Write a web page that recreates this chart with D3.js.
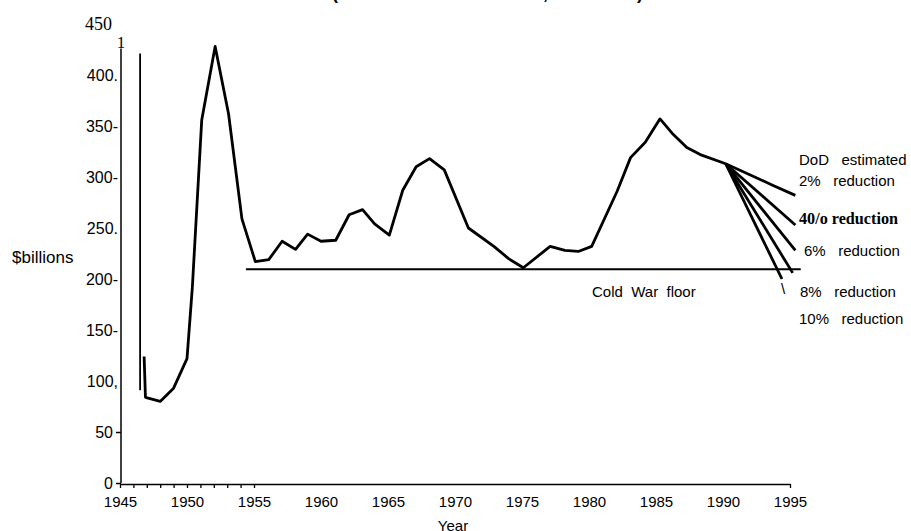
<!DOCTYPE html>
<html>
<head>
<meta charset="utf-8">
<script src="https://cdn.jsdelivr.net/npm/d3@7"></script>
<style>
body { margin: 0; background: #fff; }
text { fill: #000; white-space: pre; }
</style>
</head>
<body>
<div id="chart"></div>
<script>
// defense spending ($ billions)
var years = [1946.8, 1946.9, 1948.0, 1949.0, 1950.0, 1950.4, 1951.1, 1952.1, 1953.1, 1954.1,
    1955.1, 1956.1, 1957.1, 1958.1, 1959.0, 1960.0, 1961.1, 1962.1, 1963.1, 1964.0,
    1965.1, 1966.1, 1967.1, 1968.1, 1969.2, 1971.0, 1972.9, 1974.0, 1975.1, 1977.1,
    1978.2, 1979.2, 1980.2, 1982.1, 1983.1, 1984.2, 1985.3, 1986.2, 1987.3, 1988.3, 1990.2];
var spending = [124, 84, 80, 93, 122, 192, 356, 428, 362, 259,
    217, 219, 237, 229, 244, 237, 238, 263, 268, 254,
    243, 287, 310, 318, 307, 250, 232, 220, 211, 232,
    228, 227, 232, 286, 319, 334, 357, 343, 329, 322, 313];

// projected reductions after 1990
var scenarioNames = ["2%", "4%", "6%", "8%", "10%"];
var scenarioYears = [[1990.2, 1993.7, 1995.4], [1990.2, 1995.4], [1990.2, 1995.4], [1990.2, 1995.2], [1990.2, 1994.4]];
var scenarioValues = [[313, 292, 282], [313, 253], [313, 228], [313, 206], [313, 200]];

// scan leftovers: the 1946 drop line and the cold war floor
var spikeYear = 1946.5;
var spikeValues = [421, 91];
var floorValue = 209.5;
var floorYears = [1954.4, 1995.8];

var xTicks = [1945, 1950, 1955, 1960, 1965, 1970, 1975, 1980, 1985, 1990, 1995];
var minorTicks = [1945, 1946, 1947, 1948, 1949, 1950, 1951, 1952, 1953, 1954, 1955, 1995];
var yTicks = [0, 50, 100, 150, 200, 250, 300, 350, 400, 450];
var yTickLabels = ["0", "50", "100,", "150-", "200-", "250.", "300-", "350-", "400.", "450"];
var yAxisTop = 426;

var sans = "'Liberation Sans', Arial, sans-serif",
    serif = "'Liberation Serif', 'Times New Roman', serif";

var width = 911,
    height = 531;

var svg = d3.select("#chart")
    .append("svg")
    .attr("width", width)
    .attr("height", height)
    .style("display", "block")

var x = d3.scaleLinear().domain([1945, 1995]).range([120, 790])
var y = d3.scaleLinear().domain([0, 450]).range([483, 24])

// cut-off title, only the descenders show
svg.append("text")
    .attr("x", 332)
    .attr("y", -1.2)
    .attr("font-family", sans)
    .attr("font-weight", "bold")
    .attr("font-size", 18)
    .text("(in constant 1995 dollars, in billions)")

// x axis
var xAxis = svg.append("g")
    .attr("transform", "translate(0,484)")
    .call(d3.axisBottom(x).tickValues(xTicks).tickFormat(d3.format("d")).tickSize(0).tickPadding(12))
xAxis.select(".domain").attr("stroke-width", 1.6)
xAxis.selectAll("text").attr("font-family", sans).attr("font-size", 15)

svg.append("g")
    .attr("transform", "translate(0,484)")
    .call(d3.axisBottom(x).tickValues(minorTicks).tickFormat("").tickSize(4))
    .call(function(g) { g.select(".domain").remove() })
    .selectAll("line").attr("stroke-width", 1.3)

// y axis
var yAxis = svg.append("g")
    .attr("transform", "translate(121,0)")
    .call(d3.axisLeft(y).tickValues(yTicks).tickFormat(function(d, i) { return yTickLabels[i] }).tickSize(0).tickPadding(3))
yAxis.select(".domain").remove()
yAxis.selectAll("text").attr("font-family", sans).attr("font-size", 16)
yAxis.selectAll(".tick").filter(function(d) { return d <= 50 })
    .call(function(t) {
        t.select("text").attr("x", -8)
        t.append("line").attr("x1", -5).attr("x2", 0).attr("stroke", "#000").attr("stroke-width", 1.5)
    })
yAxis.selectAll(".tick").filter(function(d) { return d === 450 })
    .select("text")
    .attr("x", -9)
    .attr("font-family", serif)
    .attr("font-size", 18)

svg.append("line")
    .attr("x1", 121).attr("x2", 121)
    .attr("y1", y(0)).attr("y2", y(yAxisTop))
    .attr("stroke", "#000")
    .attr("stroke-width", 1.5)

svg.append("text")
    .attr("x", 121)
    .attr("y", 48)
    .attr("text-anchor", "middle")
    .attr("font-family", serif)
    .attr("font-size", 17)
    .text("1")

svg.append("text")
    .attr("x", 12)
    .attr("y", 263)
    .attr("font-family", sans)
    .attr("font-size", 17)
    .text("$billions")

svg.append("text")
    .attr("x", 453)
    .attr("y", 531)
    .attr("text-anchor", "middle")
    .attr("font-family", sans)
    .attr("font-size", 15)
    .text("Year")

// 1946 drop
svg.append("line")
    .attr("x1", x(spikeYear)).attr("x2", x(spikeYear))
    .attr("y1", y(spikeValues[0])).attr("y2", y(spikeValues[1]))
    .attr("stroke", "#000")
    .attr("stroke-width", 1.8)

// cold war floor
svg.append("line")
    .attr("x1", x(floorYears[0])).attr("x2", x(floorYears[1]))
    .attr("y1", y(floorValue)).attr("y2", y(floorValue))
    .attr("stroke", "#000")
    .attr("stroke-width", 2)

var line = d3.line()
    .x(function(d) { return x(d[0]) })
    .y(function(d) { return y(d[1]) })

svg.append("path")
    .datum(d3.zip(years, spending))
    .attr("d", line)
    .attr("fill", "none")
    .attr("stroke", "#000")
    .attr("stroke-width", 2.8)
    .attr("stroke-linejoin", "round")

svg.selectAll(".scenario")
    .data(scenarioNames)
    .enter().append("path")
    .attr("class", "scenario")
    .attr("d", function(d, i) { return line(d3.zip(scenarioYears[i], scenarioValues[i])) })
    .attr("fill", "none")
    .attr("stroke", "#000")
    .attr("stroke-width", 2.8)
    .attr("stroke-linejoin", "round")

// labels on the right
var notes = [
    { t: "DoD   estimated", x: 799, y: 165 },
    { t: "2%   reduction", x: 799, y: 186 },
    { t: "40/o reduction", x: 799, y: 224, bold: true },
    { t: "6%   reduction", x: 804, y: 256 },
    { t: "\\", x: 781, y: 294 },
    { t: "8%   reduction", x: 800, y: 297 },
    { t: "10%   reduction", x: 799, y: 324 },
    { t: "Cold  War  floor", x: 592, y: 297 }
]

svg.selectAll(".note")
    .data(notes)
    .enter().append("text")
    .attr("class", "note")
    .attr("x", function(d) { return d.x })
    .attr("y", function(d) { return d.y })
    .attr("font-family", function(d) { return d.bold ? serif : sans })
    .attr("font-weight", function(d) { return d.bold ? "bold" : "normal" })
    .attr("font-size", function(d) { return d.bold ? 17 : 15 })
    .attr("textLength", function(d) { return d.bold ? 99 : null })
    .attr("lengthAdjust", "spacingAndGlyphs")
    .text(function(d) { return d.t })
</script>
</body>
</html>
